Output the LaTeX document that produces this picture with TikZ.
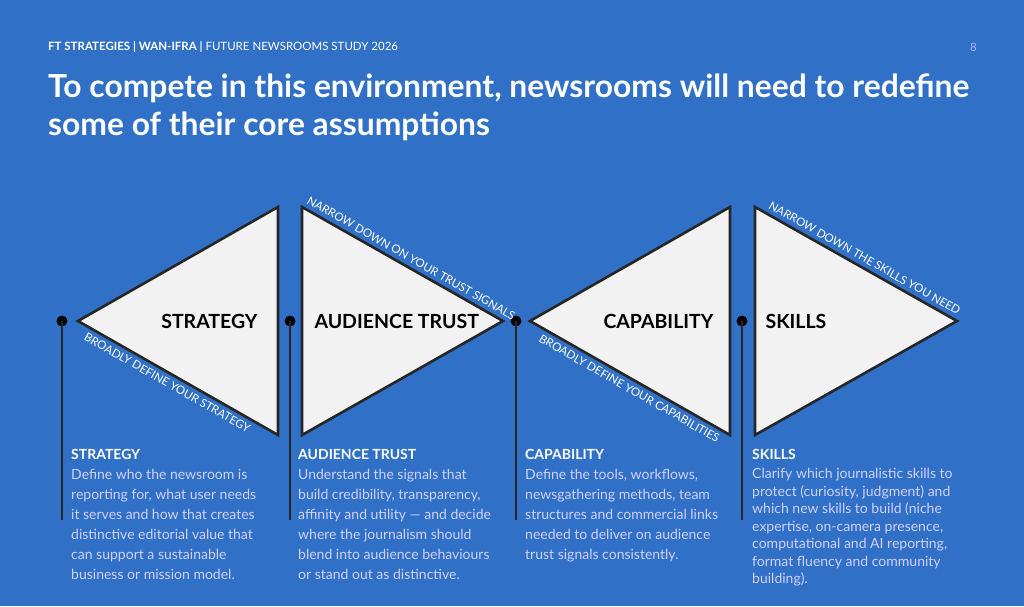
\documentclass[tikz,border=0pt]{standalone}
\usepackage{fontspec}
\setmainfont{Lato}
\usetikzlibrary{calc}
\begin{document}
\begin{tikzpicture}[x=1pt,y=-1pt,
  tri/.style={draw=black!85,line width=2.6pt,fill=black!5,line join=miter},
  big/.style={font=\bfseries\fontsize{19.5}{22}\selectfont,text=black},
  diag/.style={font=\fontsize{11.5}{13}\selectfont,text=white,inner xsep=2pt,inner ysep=5pt},
  dot/.style={circle,fill=black,inner sep=0pt,minimum size=11pt},
  stem/.style={draw=black!85,line width=1.4pt},
  body/.style={anchor=north west,align=left,inner sep=0pt,text=white!82!blue,font=\fontsize{14}{20}\selectfont}]
\fill[fill={rgb,255:red,48;green,112;blue,198}] (0,0) rectangle (1024,606);
\useasboundingbox (0,0) rectangle (1024,606);
\node[anchor=west,text=white,font=\fontsize{11.5}{14}\selectfont,inner sep=0pt] (hdr) at (48,47) {\textbf{FT STRATEGIES | WAN-IFRA |} FUTURE NEWSROOMS STUDY 2026};
\node[anchor=east,text=white!70!blue,font=\fontsize{11.5}{14}\selectfont,inner sep=0pt] (pg) at (977,47) {8};
\node[anchor=north west,align=left,text=white,font=\bfseries\fontsize{31.8}{38}\selectfont,inner sep=0pt] (title) at (48,74) {To compete in this environment, newsrooms will need to redefine\\some of their core assumptions};
% stems and dots
\foreach \n/\x in {a/62,b/290,c/516,d/742}{
  \coordinate (e\n) at (\x,520);
  \node[dot] (d\n) at (\x,321) {};
  \draw[stem] (d\n.center) -- (e\n);
}
% triangles
\draw[tri] (78,321) coordinate (t1a) -- (278,207) coordinate (t1b) -- (278,435) coordinate (t1c) -- cycle;
\draw[tri] (302,207) coordinate (t2b) -- (503,321) coordinate (t2a) -- (302,435) coordinate (t2c) -- cycle;
\draw[tri] (530,321) coordinate (t3a) -- (730,207) coordinate (t3b) -- (730,435) coordinate (t3c) -- cycle;
\draw[tri] (755,207) coordinate (t4b) -- (957,321) coordinate (t4a) -- (755,435) coordinate (t4c) -- cycle;
\node[big,anchor=east] (l1) at (261,321) {STRATEGY};
\node[big,anchor=west] (l2) at (311,321) {AUDIENCE TRUST};
\node[big,anchor=east] (l3) at (717,321) {CAPABILITY};
\node[big,anchor=west] (l4) at (762,321) {SKILLS};
% diagonal labels
\node[diag,rotate=-29.7,anchor=north] (g1) at ($(t1a)!0.47!(t1c)$) {BROADLY DEFINE YOUR STRATEGY};
\node[diag,rotate=-29.6,anchor=south] (g2) at ($(t2b)!0.52!(t2a)$) {NARROW DOWN ON YOUR TRUST SIGNALS};
\node[diag,rotate=-29.7,anchor=north] (g3) at ($(t3a)!0.52!(t3c)$) {BROADLY DEFINE YOUR CAPABILITIES};
\node[diag,rotate=-29.4,anchor=south] (g4) at ($(t4b)!0.52!(t4a)$) {NARROW DOWN THE SKILLS YOU NEED};
% bodies
\node[body] (b1) at (71,449) {{\color{white}\bfseries STRATEGY}\\Define who the newsroom is\\reporting for, what user needs\\it serves and how that creates\\distinctive editorial value that\\can support a sustainable\\business or mission model.};
\node[body] (b2) at (298,449) {{\color{white}\bfseries AUDIENCE TRUST}\\Understand the signals that\\build credibility, transparency,\\affinity and utility — and decide\\where the journalism should\\blend into audience behaviours\\or stand out as distinctive.};
\node[body] (b3) at (525,449) {{\color{white}\bfseries CAPABILITY}\\Define the tools, workflows,\\newsgathering methods, team\\structures and commercial links\\needed to deliver on audience\\trust signals consistently.};
\node[body,font=\fontsize{14}{17.5}\selectfont] (b4) at (752,449) {{\color{white}\bfseries SKILLS}\\[2pt]Clarify which journalistic skills to\\protect (curiosity, judgment) and\\which new skills to build (niche\\expertise, on-camera presence,\\computational and AI reporting,\\format fluency and community\\building).};
\end{tikzpicture}
\end{document}
